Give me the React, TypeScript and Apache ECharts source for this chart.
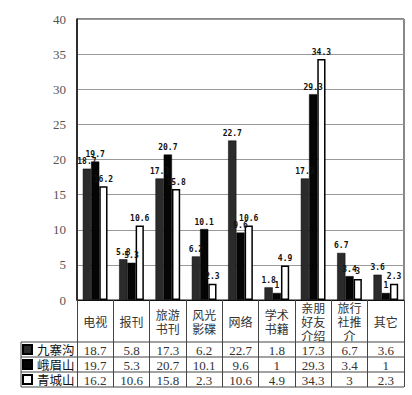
import React, { useEffect, useRef } from "react";
import * as echarts from "echarts";

const categories = ["电视", "报刊", "旅游\n书刊", "风光\n影碟", "网络", "学术\n书籍", "亲朋\n好友\n介绍", "旅行\n社推\n介", "其它"];
const seriesNames = ["九寨沟", "峨眉山", "青城山"];
const jiuzhaigou = [18.7, 5.8, 17.3, 6.2, 22.7, 1.8, 17.3, 6.7, 3.6];
const emeishan = [19.7, 5.3, 20.7, 10.1, 9.6, 1, 29.3, 3.4, 1];
const qingchengshan = [16.2, 10.6, 15.8, 2.3, 10.6, 4.9, 34.3, 3, 2.3];
const yTicks = [0, 5, 10, 15, 20, 25, 30, 35, 40];

const GRID_LEFT = 77;
const GRID_RIGHT = 8;
const GRID_TOP = 19;
const GRID_BOTTOM = 95;
const W = 412;
const H = 395;
const PLOT_BOTTOM = H - GRID_BOTTOM; // 300
const TABLE_ROW1 = 342;
const ROW_H = 15;

export default function App() {
  const ref = useRef<HTMLDivElement>(null);
  useEffect(() => {
    if (!ref.current) return;
    const chart = echarts.init(ref.current, null, { renderer: "svg" });
    const allValues = [jiuzhaigou, emeishan, qingchengshan];
    const colors = ["#2b2b2b", "#050505", "#ffffff"];
    const labelStyle = {
      show: true,
      position: "top" as const,
      fontSize: 8,
      fontFamily: "DejaVu Sans Mono",
      fontWeight: "bold" as const,
      color: "#111",
      distance: 3,
    };
    const valueAxis = (rowIdx: number) => ({
      type: "category" as const,
      data: categories,
      position: "bottom" as const,
      offset: TABLE_ROW1 - PLOT_BOTTOM + ROW_H * rowIdx,
      axisLine: { show: false },
      axisTick: { show: false },
      splitLine: { show: false },
      axisLabel: {
        interval: 0,
        margin: ROW_H / 2 + 1,
        verticalAlign: "middle" as const,
        fontFamily: "Liberation Serif",
        fontSize: 13,
        color: "#333",
        formatter: (_v: string, i: number) => String(allValues[rowIdx][i]),
      },
    });
    const lineStyle = { stroke: "#444", lineWidth: 1 };
    const hLines = [0, 1, 2, 3].map((k) => ({
      type: "line" as const,
      shape: { x1: 21, y1: TABLE_ROW1 + k * ROW_H, x2: W - GRID_RIGHT, y2: TABLE_ROW1 + k * ROW_H },
      style: lineStyle,
      silent: true,
    }));
    const legends = seriesNames.map((name, k) => ({
      orient: "horizontal",
      left: 22,
      top: TABLE_ROW1 + k * ROW_H + 1,
      padding: 0,
      itemWidth: 9,
      itemHeight: 9,
      itemGap: 0,
      data: [name],
      icon: "rect",
      textStyle: { fontSize: 12.5, lineHeight: 13, fontFamily: "Noto Sans CJK SC", color: "#111" },
    }));
    chart.setOption({
      animation: false,
      backgroundColor: "#fff",
      grid: {
        left: GRID_LEFT,
        right: GRID_RIGHT,
        top: GRID_TOP,
        bottom: GRID_BOTTOM,
        show: true,
        borderColor: "#111",
        borderWidth: 1,
        backgroundColor: "transparent",
      },
      legend: legends,
      xAxis: [
        {
          type: "category",
          data: categories,
          axisLine: { show: true, lineStyle: { color: "#111", width: 1 } },
          axisTick: {
            show: true,
            interval: 0,
            length: TABLE_ROW1 + 3 * ROW_H - PLOT_BOTTOM,
            lineStyle: { color: "#444", width: 1 },
          },
          axisLabel: {
            interval: 0,
            margin: 21,
            verticalAlign: "middle",
            fontFamily: "Noto Sans CJK SC",
            fontSize: 12,
            lineHeight: 14,
            color: "#333",
          },
        },
        valueAxis(0),
        valueAxis(1),
        valueAxis(2),
      ],
      yAxis: {
        type: "value",
        min: yTicks[0],
        max: yTicks[yTicks.length - 1],
        interval: 5,
        axisLine: { show: true, lineStyle: { color: "#111", width: 1.5 } },
        axisTick: { show: false },
        splitLine: { show: true, lineStyle: { color: "#999", width: 1 } },
        axisLabel: { fontFamily: "Liberation Serif", fontSize: 13, color: "#555", margin: 11 },
      },
      series: seriesNames.map((name, si) => ({
        name,
        type: "bar",
        xAxisIndex: 0,
        data: allValues[si],
        barGap: "0%",
        barCategoryGap: "32%",
        itemStyle: {
          color: colors[si],
          borderColor: "#000",
          borderWidth: si === 2 ? 1.5 : 0.5,
        },
        label: labelStyle,
        labelLayout: { moveOverlap: "shiftY" },
      })),
      graphic: [
        ...hLines,
        {
          type: "line",
          shape: { x1: 21, y1: TABLE_ROW1, x2: 21, y2: TABLE_ROW1 + 3 * ROW_H },
          style: lineStyle,
          silent: true,
        },
      ],
    });
    return () => chart.dispose();
  }, []);
  return <div ref={ref} style={{ position: "fixed", left: 0, top: 0, width: W, height: H }} />;
}
